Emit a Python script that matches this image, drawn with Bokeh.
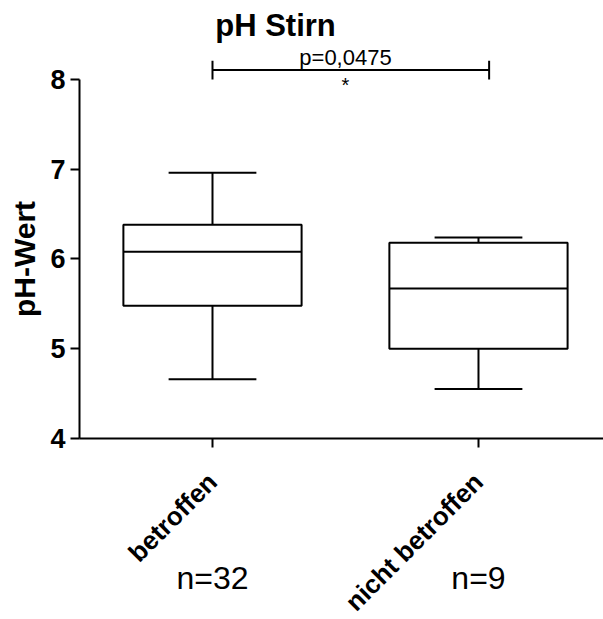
import math
from bokeh.plotting import figure
from bokeh.models import Range1d, FixedTicker, Label, ColumnDataSource
from bokeh.embed import file_html
from bokeh.resources import INLINE

# ---- data ----
categories = ["betroffen", "nicht betroffen"]
positions = [1, 2]
q1 = [5.48, 5.00]
median = [6.08, 5.67]
q3 = [6.38, 6.18]
whisker_low = [4.66, 4.55]
whisker_high = [6.96, 6.24]
n_counts = [32, 9]
y_ticks = [4, 5, 6, 7, 8]
sig_x = [1.0, 2.04]
sig_y = 8.106
p_text = "p=0,0475"
title_text = "pH Stirn"
y_label = "pH-Wert"

FONT = "Liberation Sans"
BOX_W = 0.67
CAP_W = 0.33

# frame covers the whole canvas; axes are pinned at x=0.5 / y=4
p = figure(width=603, height=619, output_backend="svg", toolbar_location=None,
           x_range=Range1d(0.2030, 2.470), y_range=Range1d(1.983, 8.880),
           min_border=0, outline_line_color=None)
p.grid.visible = False
p.background_fill_color = "white"
p.border_fill_color = "white"

for ax in (p.xaxis[0], p.yaxis[0]):
    ax.axis_line_width = 2
    ax.axis_line_color = "black"
    ax.major_tick_line_width = 2
    ax.major_tick_line_color = "black"
    ax.major_tick_out = 9
    ax.major_tick_in = 0
    ax.minor_tick_line_color = None
    ax.major_label_text_font = FONT
    ax.major_label_text_font_style = "bold"
    ax.major_label_text_color = "black"

p.yaxis.fixed_location = 0.5
p.yaxis.ticker = FixedTicker(ticks=y_ticks)
p.yaxis.bounds = (4, 8)
p.yaxis.major_label_text_font_size = "27px"
p.yaxis.major_label_standoff = 5

p.xaxis.fixed_location = 4
p.xaxis.bounds = (0.5, 2.47)
p.xaxis.ticker = FixedTicker(ticks=positions)
p.xaxis.major_label_overrides = {pos: cat for pos, cat in zip(positions, categories)}
p.xaxis.major_label_orientation = math.pi / 4
p.xaxis.major_label_text_font_size = "26px"
p.xaxis.major_label_standoff = 30

# boxes
src = ColumnDataSource(dict(x=positions, q1=q1, med=median, q3=q3,
                            lo=whisker_low, hi=whisker_high))
src.data["left"] = [x - BOX_W / 2 for x in positions]
src.data["right"] = [x + BOX_W / 2 for x in positions]
src.data["cl"] = [x - CAP_W / 2 for x in positions]
src.data["cr"] = [x + CAP_W / 2 for x in positions]

p.segment(x0="x", y0="q3", x1="x", y1="hi", source=src, line_color="black", line_width=2)
p.segment(x0="x", y0="lo", x1="x", y1="q1", source=src, line_color="black", line_width=2)
p.segment(x0="cl", y0="hi", x1="cr", y1="hi", source=src, line_color="black", line_width=2)
p.segment(x0="cl", y0="lo", x1="cr", y1="lo", source=src, line_color="black", line_width=2)
p.quad(left="left", right="right", bottom="q1", top="q3", source=src,
       fill_color="white", line_color="black", line_width=2)
p.segment(x0="left", y0="med", x1="right", y1="med", source=src, line_color="black", line_width=2)

# significance bar
p.segment(x0=[sig_x[0]], y0=[sig_y], x1=[sig_x[1]], y1=[sig_y], line_color="black", line_width=2)
p.segment(x0=sig_x, y0=[8.0, 8.0], x1=sig_x, y1=[8.21, 8.21], line_color="black", line_width=2)
mid = (positions[0] + positions[1]) / 2
p.add_layout(Label(x=mid, y=8.240, text=p_text, text_align="center",
                   text_baseline="middle", text_font=FONT, text_font_size="22px",
                   text_color="black"))
p.add_layout(Label(x=mid, y=7.944, text="*", text_align="center",
                   text_baseline="middle", text_font=FONT, text_font_size="20px",
                   text_color="black"))

# title
p.add_layout(Label(x=1.237, y=8.596, text=title_text, text_align="center",
                   text_baseline="middle", text_font=FONT, text_font_style="bold",
                   text_font_size="31px", text_color="black"))

# y axis title
p.add_layout(Label(x=0.295, y=6.0, text=y_label, angle=math.pi / 2, text_align="center",
                   text_baseline="middle", text_font=FONT, text_font_style="bold",
                   text_font_size="30px", text_color="black"))

# n labels
for pos, n in zip(positions, n_counts):
    p.add_layout(Label(x=pos, y=2.446, text=f"n={n}", text_align="center",
                       text_baseline="middle", text_font=FONT, text_font_size="32px",
                       text_color="black"))

open("out.html", "w").write(file_html(p, INLINE))
